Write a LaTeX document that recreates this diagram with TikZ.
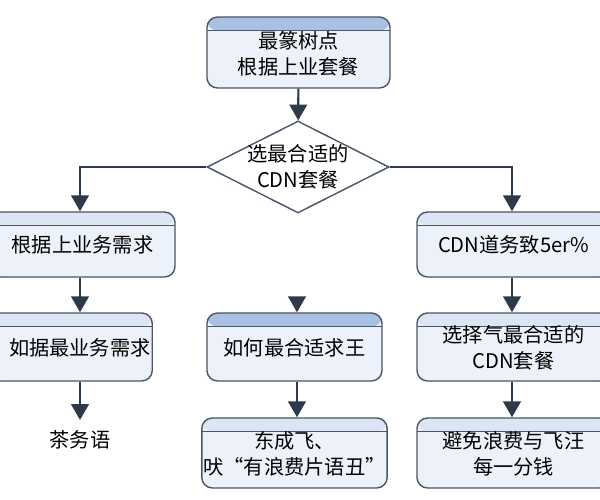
\documentclass[tikz,border=0pt]{standalone}
\usepackage{fontspec}
\setmainfont{Noto Sans CJK SC}
\usetikzlibrary{shapes.geometric,arrows.meta}
\definecolor{ln}{HTML}{4A5568}
\definecolor{bx}{HTML}{EDF2FA}
\definecolor{hdA}{HTML}{A9C0E2}
\definecolor{hdB}{HTML}{DCE5F3}
\definecolor{ar}{HTML}{2D3A4A}
\tikzset{
 box/.style={rectangle,rounded corners=6pt,draw=ln,line width=0.8pt,fill=bx,align=center,
   font=\fontsize{11.5}{14.5}\selectfont,inner sep=1pt,text depth=0pt,
   path picture={\fill[#1] (path picture bounding box.north west) rectangle ([yshift=-0.27cm]path picture bounding box.north east);
     \draw[ln,line width=0.6pt] ([yshift=-0.27cm]path picture bounding box.north west) -- ([yshift=-0.27cm]path picture bounding box.north east);}},
 box/.default=hdB,
 arr/.style={draw=ar,line width=1.2pt,-{Triangle[length=9pt,width=10pt]}},
 txt/.style={font=\fontsize{11.5}{14.5}\selectfont,align=center}
}
\begin{document}
\begin{tikzpicture}
\useasboundingbox (0,0) rectangle (12,10);
\clip (0,0) rectangle (12,10);
\fill[white] (0,0) rectangle (12,10);
\node[box=hdA,minimum width=3.66cm,minimum height=1.42cm] (top) at (5.97,8.95) {\\[-4pt]最篆树点\\根据上业套餐};
\node[diamond,draw=ln,line width=0.8pt,fill=white,aspect=2,inner sep=0pt,minimum width=3.64cm,minimum height=1.84cm] (d) at (5.96,6.66) {};
\node[txt] (dt) at (d) {选最合适的\\CDN套餐};
\node[box,minimum width=3.7cm,minimum height=1.3cm] (l1) at (1.65,5.11) {\\[-5pt]根据上业务需求};
\node[box,minimum width=3.86cm,minimum height=1.3cm] (r1) at (10.27,5.11) {\\[-5pt]CDN道务致5er\%};
\node[box,minimum width=3.24cm,minimum height=1.36cm] (l2) at (1.42,3.06) {\\[-5pt]\hspace*{10pt}如据最业务需求};
\node[box=hdA,minimum width=3.5cm,minimum height=1.36cm] (m2) at (5.89,3.06) {\\[-5pt]如何最合适求王};
\node[box,minimum width=3.86cm,minimum height=1.36cm] (r2) at (10.27,3.06) {\\[-5pt]选择气最合适的\\CDN套餐};
\node[txt] (l3) at (1.6,1.2) {茶务语};
\node[box,minimum width=3.5cm,minimum height=1.4cm] (m3) at (5.89,0.94) {\\[-5pt]东成飞、\\吠“有浪费片语丑”};
\node[box,minimum width=3.86cm,minimum height=1.4cm] (r3) at (10.27,0.94) {\\[-5pt]避免浪费与飞汪\\每一分钱};
\coordinate (mfree) at (5.94,4.05);
\draw[arr] (top) -- (d);
\draw[arr] (d.west) -| (l1.north -| 1.6,0);
\draw[arr] (d.east) -| (r1.north -| 10.24,0);
\draw[arr] (1.6,0 |- l1.south) -- (1.6,0 |- l2.north);
\draw[arr] (10.24,0 |- r1.south) -- (10.24,0 |- r2.north);
\draw[arr] (mfree) -- (5.94,0 |- m2.north);
\draw[arr] (1.6,0 |- l2.south) -- (1.6,1.6);
\draw[arr] (5.94,0 |- m2.south) -- (5.94,0 |- m3.north);
\draw[arr] (10.24,0 |- r2.south) -- (10.24,0 |- r3.north);
\end{tikzpicture}
\end{document}
